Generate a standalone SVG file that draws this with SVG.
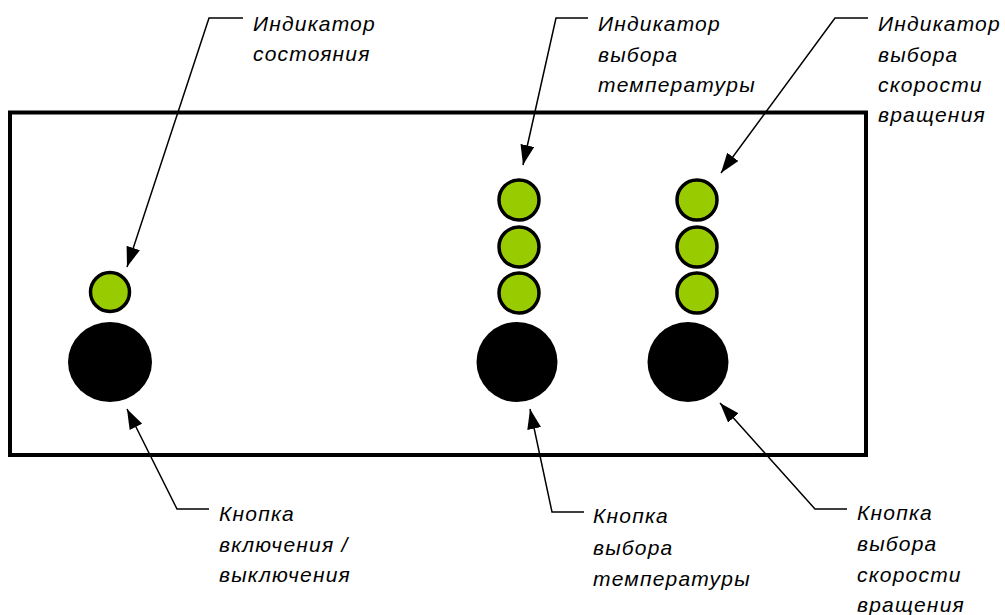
<svg xmlns="http://www.w3.org/2000/svg" width="1005" height="615" viewBox="0 0 1005 615">
<defs>
<marker id="ah" viewBox="0 0 20 14" refX="20" refY="7" markerWidth="20" markerHeight="14" markerUnits="userSpaceOnUse" orient="auto">
<path d="M0,0 L20,7 L0,14 Z" fill="#000"/>
</marker>
</defs>
<style>
.lbl{font-family:"Liberation Sans",Arial,sans-serif;font-style:italic;font-size:21px;letter-spacing:1.2px;fill:#000}
.led{fill:#99cc00;stroke:#000;stroke-width:3.5}
.btn{fill:#000}
.con{fill:none;stroke:#000;stroke-width:1.5}
</style>
<rect id="panel" x="10" y="112.5" width="856" height="342.5" fill="#fff" stroke="#000" stroke-width="4"/>
<g id="status-led"><circle class="led" cx="110" cy="292" r="19.5"/></g>
<g id="power-button"><ellipse class="btn" cx="110" cy="362" rx="42" ry="40"/></g>
<g id="temp-leds">
<circle class="led" cx="519" cy="200" r="20"/>
<circle class="led" cx="519" cy="247" r="20"/>
<circle class="led" cx="519" cy="293" r="20"/>
</g>
<g id="temp-button"><ellipse class="btn" cx="517" cy="362" rx="40.5" ry="40"/></g>
<g id="speed-leds">
<circle class="led" cx="697" cy="200" r="20"/>
<circle class="led" cx="697" cy="247" r="20"/>
<circle class="led" cx="697" cy="293" r="20"/>
</g>
<g id="speed-button"><ellipse class="btn" cx="688" cy="362" rx="40.5" ry="40"/></g>
<g id="connectors">
<polyline class="con" points="243,18 209,18 127,267" marker-end="url(#ah)"/>
<polyline class="con" points="588,18 556,18 523,165" marker-end="url(#ah)"/>
<polyline class="con" points="868,18 835,18 721,173" marker-end="url(#ah)"/>
<polyline class="con" points="209,509 177,509 127,409" marker-end="url(#ah)"/>
<polyline class="con" points="584,512 552,512 530,409" marker-end="url(#ah)"/>
<polyline class="con" points="847,509 815,509 720,403" marker-end="url(#ah)"/>
</g>
<g id="label-status">
<text class="lbl" x="253" y="31">Индикатор</text>
<text class="lbl" x="253" y="61">состояния</text>
</g>
<g id="label-temp-ind">
<text class="lbl" x="598" y="31">Индикатор</text>
<text class="lbl" x="598" y="62">выбора</text>
<text class="lbl" x="598" y="92">температуры</text>
</g>
<g id="label-speed-ind">
<text class="lbl" x="878" y="31">Индикатор</text>
<text class="lbl" x="878" y="62">выбора</text>
<text class="lbl" x="878" y="92">скорости</text>
<text class="lbl" x="878" y="122">вращения</text>
</g>
<g id="label-power">
<text class="lbl" x="219" y="521">Кнопка</text>
<text class="lbl" x="219" y="552">включения /</text>
<text class="lbl" x="219" y="582">выключения</text>
</g>
<g id="label-temp-btn">
<text class="lbl" x="593" y="523">Кнопка</text>
<text class="lbl" x="593" y="555">выбора</text>
<text class="lbl" x="593" y="586">температуры</text>
</g>
<g id="label-speed-btn">
<text class="lbl" x="857" y="520">Кнопка</text>
<text class="lbl" x="857" y="551">выбора</text>
<text class="lbl" x="857" y="582">скорости</text>
<text class="lbl" x="857" y="612">вращения</text>
</g>
</svg>
